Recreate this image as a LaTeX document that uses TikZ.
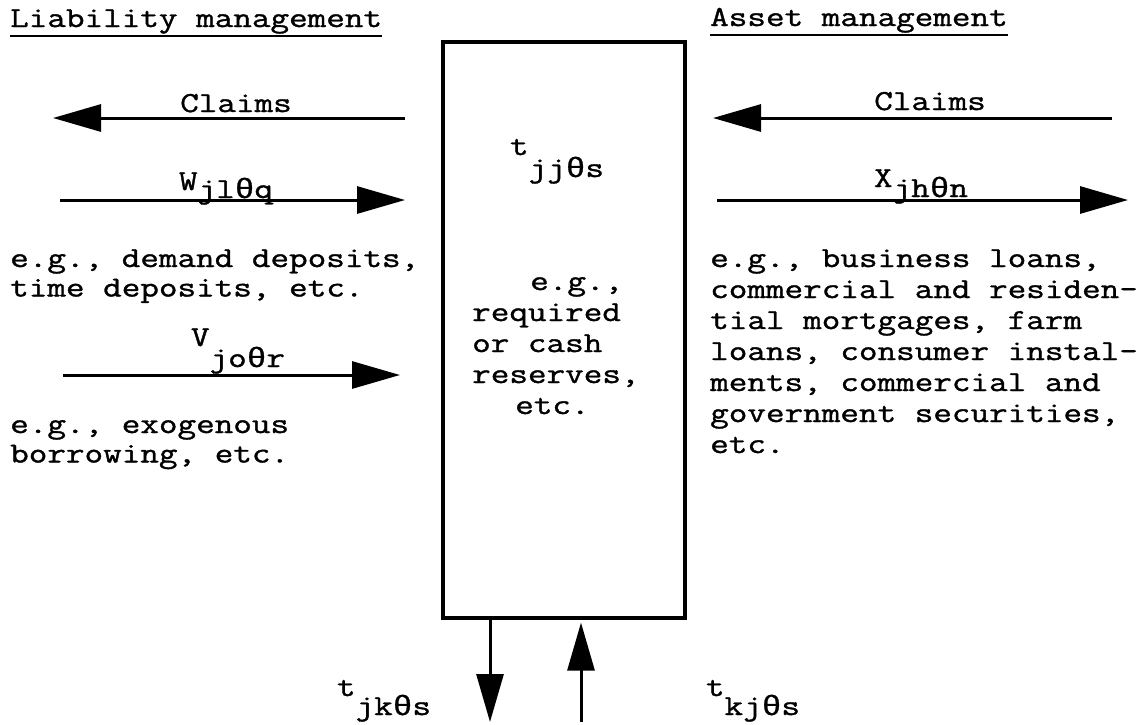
\documentclass[tikz,border=0pt]{standalone}
\usepackage{fontspec}
\newfontfamily\tw[FakeStretch=1.245,FakeBold=1.2]{Latin Modern Mono}
\newfontfamily\gk[FakeStretch=1.17,FakeBold=0.8]{Liberation Mono}
\usetikzlibrary{arrows.meta}
\newcommand\sbs[3]{#1\raisebox{-#3pt}{#2}}
\newcommand\thet{{\gk\fontsize{28}{31}\selectfont θ}}
\tikzset{
  txt/.style={font=\tw\fontsize{29}{31}\selectfont, inner sep=0pt, align=left},
  txtl/.style={font=\tw\fontsize{29}{29.5}\selectfont, inner sep=0pt, align=left},
  flow/.style={line width=3pt, -{Triangle[length=48pt,width=27pt]}},
  uline/.style={line width=2pt},
  bigbox/.style={draw, line width=3.2pt, minimum width=242pt, minimum height=576pt, inner sep=0pt},
}
\begin{document}
\begin{tikzpicture}[x=1pt,y=-1pt]
\useasboundingbox (0,0) rectangle (1148,724);
\fill[white] (0,0) rectangle (1148,724);

% headers
\node[txt, anchor=base west] (hl) at (10,27) {Liability management};
\draw[uline] ([yshift=-9pt]hl.base west) -- ([yshift=-9pt]hl.base east);
\node[txt, anchor=base west] (hr) at (710,26) {Asset management};
\draw[uline] ([yshift=-9pt]hr.base west) -- ([yshift=-9pt]hr.base east);

% central box
\node[bigbox] (box) at (564,330) {};
\node[txt, anchor=base] (tjj) at (557,155) {\sbs{t}{jj\thet s}{22}};
% base anchor of a multi-line node = baseline of its last line
\node[txt, anchor=base west] (btx) at (472,414) {\hspace*{58pt}e.g.,\\required\\or cash\\reserves,\\\hspace*{43pt}etc.};

% left side
\coordinate (lc1) at (405,118);
\coordinate (lc2) at (53,118);
\draw[flow] (lc1) -- (lc2);
\node[txt, anchor=base] (cl) at (236,112) {Claims};

\coordinate (lw1) at (60,200);
\coordinate (lw2) at (405,200);
\draw[flow] (lw1) -- (lw2);
\node[txt, anchor=base] (wl) at (226,190) {\sbs{W}{jl\thet q}{8}};

\node[txtl, anchor=base west] (ld) at (10,296.5) {e.g., demand deposits,\\time deposits, etc.};

\coordinate (lv1) at (63,375);
\coordinate (lv2) at (400,375);
\draw[flow] (lv1) -- (lv2);
\node[txt, anchor=base] (vl) at (238,346) {\sbs{V}{jo\thet r}{21}};

\node[txtl, anchor=base west] (lb) at (10,462.5) {e.g., exogenous\\borrowing, etc.};

% right side
\coordinate (rc1) at (1112,118);
\coordinate (rc2) at (713,118);
\draw[flow] (rc1) -- (rc2);
\node[txt, anchor=base] (cr) at (930,110) {Claims};

\coordinate (rx1) at (717,200);
\coordinate (rx2) at (1128,200);
\draw[flow] (rx1) -- (rx2);
\node[txt, anchor=base] (xl) at (921,187) {\sbs{X}{jh\thet n}{10}};

\node[txt, anchor=base west] (rt) at (710,453) {e.g., business loans,\\commercial and residen-\\tial mortgages, farm\\loans, consumer instal-\\ments, commercial and\\government securities,\\etc.};

% bottom flows
\coordinate (dn) at (490,722);
\coordinate (up) at (581,722);
\draw[flow] (box.south -| dn) -- (dn);
\draw[flow] (up) -- ([yshift=-3pt]box.south -| up);
\node[txt, anchor=base] (tjk) at (384,696) {\sbs{t}{jk\thet s}{19}};
\node[txt, anchor=base] (tkj) at (753,696) {\sbs{t}{kj\thet s}{19}};
\end{tikzpicture}
\end{document}
